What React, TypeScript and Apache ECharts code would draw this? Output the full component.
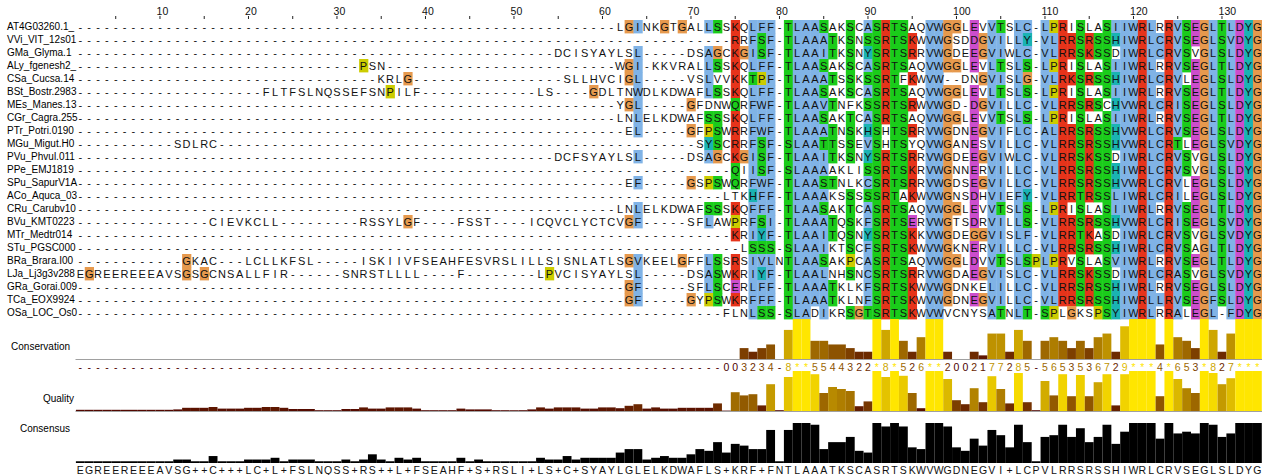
import React, { useEffect, useRef } from "react";
import * as echarts from "echarts";

// ---------------- DATA ----------------
const gap = (n: number) => "-".repeat(n);

const seqNames = [
  "AT4G03260.1_", "VVi_VIT_12s01", "GMa_Glyma.1", "ALy_fgenesh2_", "CSa_Cucsa.14",
  "BSt_Bostr.2983", "MEs_Manes.13", "CGr_Cagra.255", "PTr_Potri.0190", "MGu_Migut.H0",
  "PVu_Phvul.011", "PPe_EMJ1819", "SPu_SapurV1A", "ACo_Aquca_03", "CRu_Carubv10",
  "BVu_KMT0223", "MTr_Medtr014", "STu_PGSC000", "BRa_Brara.I00", "LJa_Lj3g3v288",
  "GRa_Gorai.009", "TCa_EOX9924", "OSa_LOC_Os0",
];

const sequences = [
  gap(61) + "LGINKGTGALLSSKQLFF" + "-" + "TLAASAKSCASRTSAQVWGG" + "LEVVTSLC" + "-" + "LPRISLASIIWRLRRVSEGLTLDYG",
  gap(61) + gap(13) + "RRFSF" + "-" + "TLAAATKSNSSRTSKWVWGS" + "DDGVILLY" + "-" + "VLRRSRSSHIWRLCRVSEGLSVDYG",
  gap(54) + "DCISYAY" + "LSL" + gap(5) + "DSAGCKGISF" + "-" + "TLAAITKSNYSRTSRRVWGD" + "EEGVIWLC" + "-" + "VLRRSKSSDIWRLCRVSVGLSLDYG",
  gap(32) + "PSN" + gap(26) + "WGI-KKVRALLSSKQLFF" + "-" + "TLAASAKSCASRTSAQVWGG" + "LEVLTSLS" + "-" + "LPRISLASIIWRLRRVSEGLTLDYG",
  gap(34) + "KRLG" + gap(17) + "SLLHVC" + "IGL" + gap(5) + "VSLVVKKTPF" + "-" + "TLAAATSSKSSRTFKWVW--" + "DNGVISLG" + "-" + "VLRKSRSSHIWRLCRVLEGLSLDYG",
  gap(21) + "FLTFSLNQSSEFSNPILF" + gap(13) + "LS" + gap(4) + "GDL" + "TNWDLKDWAFLSSKQLFF" + "-" + "TLAASAKSCASRTSAQVWGG" + "LEVLTSLS" + "-" + "LPRISLASIIWRLRRVSEGLTLDYG",
  gap(61) + "YGL" + gap(5) + "GFDNWQRFWF" + "-" + "TLAAVTNFKSSRTSRWVWGD" + "-DGVILLC" + "-" + "VLRRSRSCHVWRLCRISEGLSLDYG",
  gap(61) + "LNLELKDWAFSSSKQLFF" + "-" + "TLAASAKTCASRTSAQVWGG" + "LEVVTSLS" + "-" + "LPRISLASIIWRLRRVSEGLTLDYG",
  gap(61) + "-EL" + gap(5) + "GFPSWRRFWF" + "-" + "TLAAATNSKHSHTSRRVWGD" + "NEGVIFLC" + "-" + "ALRRSRSSHVWRLCRVSEGLSLDYG",
  gap(11) + "SDLRC" + gap(45) + gap(9) + "SYSCRRFSF" + "-" + "SLAATTSSEVSHTSYQVWGA" + "NESVILLC" + "-" + "VLRRSRSSHVWRLCRTLEGLSVDYG",
  gap(54) + "DCFSYAY" + "LSL" + gap(5) + "DSAGCKGISF" + "-" + "TLAAITKSNYSRTSRRVWGD" + "EEGVIWLC" + "-" + "VLRRSKSSDIWRLCRVSVGLSLDYG",
  gap(61) + gap(13) + "QIISF" + "-" + "SLAAAAKLISSRTSKRVWGN" + "NERVILLC" + "-" + "VLRRSRSSHIWRLCRVSVGLSLDYG",
  gap(61) + "-EF" + gap(5) + "GSPSWQRFWF" + "-" + "TLAASTNLKCSRTSRRVWGD" + "SEGVILLC" + "-" + "VLRRSRSSHVWRLCRVLEGLSLDYG",
  gap(61) + gap(12) + "LTKHFF" + "-" + "TLAAAKSSSSSRTAKWVWGN" + "SDHVIEFY" + "-" + "VLRRTRSSLIWRLCRILEGLSLDYG",
  gap(61) + "LNLELKDWAFSSSKQFFF" + "-" + "TLAASAKTCASRTSAQVWGG" + "LEVVTSLS" + "-" + "LPRISLASIIWRLRRVSEGLTLDYG",
  gap(15) + "CIEVKCLL" + gap(9) + "RSSYLGF" + gap(4) + "FSST" + gap(4) + "ICQVCLYCTC" + "VGF" + gap(5) + "SFLAWPRFSI" + "-" + "TLAAATQSKFSRTSERVWGT" + "SDRVILLS" + "-" + "VLRRSRSSHVWRLCRISEGLSVDYG",
  gap(61) + gap(13) + "KRIYF" + "-" + "TLAAITQSNYSRTSKKVWGD" + "EGGVISLF" + "-" + "VLRRTKASDIWRLCRVSVGLSVDYG",
  gap(61) + gap(14) + "LSSS" + "-" + "SLAAIKTSCFSRTSKWVWGK" + "NERVILLC" + "-" + "VLRRSRSSHIWRLCRVSAGLTLDYG",
  gap(12) + "GKAC" + gap(3) + "LCLLKFSL" + gap(5) + "ISKIIVFSEAHFESVRSLILLSISNLATL" + "SGVKEELGFFLSSRSIVL" + "N" + "TLAASAKPCASRTSAQVWGG" + "LDVVTSLS" + "P" + "LPRVSLASVIWRLRRVSEGLTLDYG",
  "EGREEREEEAVSGSGCNSALLFIR" + gap(6) + "SNRSTLLLL" + gap(4) + "F" + gap(8) + "LPVCISYAY" + "LSL" + gap(5) + "DSASWKRIYF" + "-" + "TLAALNHSNCSRTSRRVWGD" + "AEGVISLC" + "-" + "VLRRSKSSDIWRLCRASVGLSVDYG",
  gap(61) + "-GF" + gap(5) + "SFLSCERLFF" + "-" + "TLAAATKLKFSRTSKWVWGD" + "NKELILLC" + "-" + "VLRRSRSSHIWRLRRVSEGLSLDYG",
  gap(61) + "-GF" + gap(5) + "GYPSWKRFFF" + "-" + "TLAAATKLNFSRTSKWVWGD" + "NEGVILLC" + "-" + "VLRRSRSSHIWRLLRVSEGFSLDYG",
  gap(61) + gap(12) + "FLNLSS" + "-" + "SLADIKRSGTSRTSKWVWVC" + "NYSATNLT" + "-" + "SPLGKSPSYIWRLRRALEGL-FDYG",
];

// Conservation symbols per column (as shown under the conservation graph)
const conservationSymbols =
  gap(73) + "003234-8**5544322*8*526**2002177285-5653536729***4*653*827***";

// Alignment quality per column (fraction of full height)
const quality = [
  0.03, 0.03, 0.03, 0.03, 0.03, 0.03, 0.03, 0.03, 0.03, 0.03,
  0.03, 0.04, 0.08, 0.08, 0.08, 0.1, 0.06, 0.06, 0.06, 0.08,
  0.08, 0.1, 0.1, 0.08, 0.05, 0.05, 0.05, 0.02, 0.02, 0.02,
  0.05, 0.05, 0.09, 0.06, 0.06, 0.09, 0.09, 0.09, 0.06, 0.02,
  0.02, 0.02, 0.02, 0.06, 0.04, 0.04, 0.04, 0.02, 0.02, 0.02,
  0.02, 0.04, 0.09, 0.06, 0.09, 0.09, 0.09, 0.06, 0.06, 0.09,
  0.09, 0.07, 0.13, 0.17, 0.06, 0.09, 0.06, 0.06, 0.08, 0.08,
  0.08, 0.08, 0.19, 0.01, 0.47, 0.39, 0.42, 0.14, 0.67, 0.02,
  0.85, 1, 1, 0.92, 0.45, 0.6, 0.55, 0.5, 0.12, 0.24,
  1, 0.85, 1, 0.88, 0.45, 0.07, 1, 1, 0.8, 0.27,
  0.17, 0.57, 0.22, 0.87, 0.55, 0.19, 0.95, 0.22, 0.02, 0.75,
  0.39, 0.92, 0.37, 0.9, 0.37, 0.72, 0.92, 0.14, 0.92, 1,
  1, 1, 0.37, 1, 0.8, 0.57, 0.45, 1, 0.95, 0.67,
  0.82, 1, 1, 1,
];

const rulerLabels = [10, 20, 30, 40, 50, 60, 70, 80, 90, 100, 110, 120, 130];
const rulerMinorTicks = [5, 15, 25, 35, 45, 55, 65, 75, 85, 95, 105, 115, 125];
const annotationLabels = ["Conservation", "Quality", "Consensus"];

// ---------------- LAYOUT ----------------
const X0 = 75.9;
const CW = 8.85;
const NC = 134;
const GW = NC * CW;
const ALN_TOP = 20;
const RH = 13;
const CONS_TOP = 319;
const QUAL_TOP = 371;
const CSS_TOP = 423;
const GH = 40;
const FONT = "Liberation Sans, Arial, Helvetica, sans-serif";

const CLUSTAL = {
  BLUE: "#80b3e6",
  RED: "#e6331a",
  GREEN: "#1acc1a",
  ORANGE: "#e6994d",
  CYAN: "#1ab3b3",
  PINK: "#e68080",
  MAGENTA: "#cc4dcc",
  YELLOW: "#cccc00",
};

function gradient(v: number) {
  const t = Math.max(0, Math.min(1, v));
  const r = Math.round((0.3 + 0.7 * t) * 255);
  const g = Math.round(0.9 * t * 255);
  return `rgb(${r},${g},0)`;
}

function buildOption() {
  const N = sequences.length;
  const counts: Record<string, number>[] = [];
  for (let c = 0; c < NC; c++) {
    const m: Record<string, number> = {};
    for (const s of sequences) {
      const ch = s[c] || "-";
      m[ch] = (m[ch] || 0) + 1;
    }
    counts.push(m);
  }
  const pct = (c: number, set: string) => {
    let n = 0;
    for (const ch of set) n += counts[c][ch] || 0;
    return (n * 100) / N;
  };
  const HYD = "WLVIMAFCYHP";
  const clustal = (ch: string, c: number): string | null => {
    switch (ch) {
      case "A": case "I": case "L": case "M": case "F": case "W": case "V":
        return pct(c, HYD) > 60 ? CLUSTAL.BLUE : null;
      case "C":
        if (pct(c, HYD) > 60) return CLUSTAL.BLUE;
        if (pct(c, "C") > 85) return CLUSTAL.PINK;
        return null;
      case "K": case "R":
        return pct(c, "KR") > 60 || pct(c, "KRQ") > 80 ? CLUSTAL.RED : null;
      case "N":
        return pct(c, "N") > 50 || pct(c, "NY") > 85 ? CLUSTAL.GREEN : null;
      case "D":
        return pct(c, "KR") > 60 || pct(c, "KRQ") > 85 || pct(c, "ED") > 50 ? CLUSTAL.MAGENTA : null;
      case "E":
        return pct(c, "KR") > 60 || pct(c, "QE") > 50 || pct(c, "EQD") > 85 ? CLUSTAL.MAGENTA : null;
      case "Q":
        return pct(c, "KR") > 60 || pct(c, "QE") > 50 || pct(c, "QEKR") > 85 ? CLUSTAL.GREEN : null;
      case "G":
        return CLUSTAL.ORANGE;
      case "P":
        return CLUSTAL.YELLOW;
      case "H": case "Y":
        return pct(c, HYD) > 60 || pct(c, "WYACPQFHILMV") > 85 ? CLUSTAL.CYAN : null;
      case "S": case "T":
        return pct(c, HYD) > 60 || pct(c, "TS") > 50 || pct(c, "ST") > 85 ? CLUSTAL.GREEN : null;
    }
    return null;
  };

  const cells: { ch: string; color: string | null }[] = [];
  const cellData: number[][] = [];
  sequences.forEach((s, r) => {
    for (let c = 0; c < NC; c++) {
      const ch = s[c] || "-";
      cells.push({ ch, color: ch === "-" ? null : clustal(ch, c) });
      cellData.push([c, r]);
    }
  });

  const consensus = counts.map((m) => {
    let best = 0;
    let chars: string[] = [];
    for (const [ch, n] of Object.entries(m)) {
      if (ch === "-") continue;
      if (n > best) { best = n; chars = [ch]; }
      else if (n === best) chars.push(ch);
    }
    return { label: chars.length > 1 ? "+" : chars[0] || "-", value: best };
  });

  const consVal = (s: string) => (s === "*" ? 11 : s === "+" ? 10 : s === "-" ? 0 : Number(s));
  const consSyms = conservationSymbols.split("");
  const colCats = Array.from({ length: NC }, (_, i) => String(i + 1));

  const hiddenX = (gridIndex: number, line: boolean) => ({
    type: "category",
    gridIndex,
    data: colCats,
    boundaryGap: true,
    axisLabel: { show: false },
    axisTick: { show: false },
    splitLine: { show: false },
    axisLine: { show: line, lineStyle: { color: "#a0a0a0", width: 1 } },
  });

  return {
    animation: false,
    backgroundColor: "#ffffff",
    grid: [
      { left: X0, top: ALN_TOP, width: GW, height: RH * N },
      { left: X0, top: CONS_TOP, width: GW, height: GH },
      { left: X0, top: QUAL_TOP, width: GW, height: GH },
      { left: X0, top: CSS_TOP, width: GW, height: GH },
    ],
    xAxis: [hiddenX(0, false), hiddenX(1, true), hiddenX(2, true), hiddenX(3, false)],
    yAxis: [
      {
        type: "category",
        gridIndex: 0,
        data: seqNames,
        inverse: true,
        axisLine: { show: false },
        axisTick: { show: false },
        splitLine: { show: false },
        axisLabel: {
          interval: 0,
          align: "left",
          margin: X0 - 7,
          width: 72,
          overflow: "truncate",
          ellipsis: "",
          fontSize: 10,
          fontFamily: FONT,
          color: "#000",
        },
      },
      { type: "value", gridIndex: 1, min: 0, max: 11, show: false },
      { type: "value", gridIndex: 2, min: 0, max: 1, show: false },
      { type: "value", gridIndex: 3, min: 0, max: N, show: false },
    ],
    graphic: [
      { type: "text", x: 70, y: 346, style: { text: annotationLabels[0], align: "right", verticalAlign: "middle", font: `10px ${FONT}`, fill: "#000" } },
      { type: "text", x: 74, y: 398, style: { text: annotationLabels[1], align: "right", verticalAlign: "middle", font: `10px ${FONT}`, fill: "#000" } },
      { type: "text", x: 70, y: 428, style: { text: annotationLabels[2], align: "right", verticalAlign: "middle", font: `10px ${FONT}`, fill: "#000" } },
    ],
    series: [
      {
        type: "custom",
        name: "alignment",
        xAxisIndex: 0,
        yAxisIndex: 0,
        silent: true,
        encode: { x: 0, y: 1 },
        data: cellData,
        renderItem: (params: any, api: any) => {
          const cell = cells[params.dataIndex];
          const p = api.coord([api.value(0), api.value(1)]);
          const sz = api.size([1, 1]);
          const children: any[] = [];
          if (cell.color) {
            children.push({
              type: "rect",
              shape: { x: p[0] - sz[0] / 2, y: p[1] - sz[1] / 2, width: sz[0] + 0.4, height: sz[1] + 0.4 },
              style: { fill: cell.color },
            });
          }
          children.push({
            type: "text",
            style: { text: cell.ch, x: p[0], y: p[1] + 0.5, align: "center", verticalAlign: "middle", fill: "#111", font: `11px ${FONT}` },
          });
          return { type: "group", children };
        },
      },
      {
        type: "custom",
        name: "ruler",
        xAxisIndex: 0,
        yAxisIndex: 0,
        silent: true,
        clip: false,
        encode: { x: 0, y: 1 },
        data: [...rulerMinorTicks, ...rulerLabels].map((c) => [c - 1, 0, c]),
        renderItem: (params: any, api: any) => {
          const p = api.coord([api.value(0), 0]);
          const sz = api.size([1, 1]);
          const top = p[1] - sz[1] / 2;
          const num = api.value(2);
          const children: any[] = [
            { type: "line", shape: { x1: p[0], y1: top - 4, x2: p[0], y2: top - 1 }, style: { stroke: "#222", lineWidth: 1 } },
          ];
          if (num % 10 === 0) {
            children.push({
              type: "text",
              style: { text: String(num), x: p[0] - 3.4, y: top - 9, align: "left", verticalAlign: "middle", fill: "#111", font: `10.5px ${FONT}` },
            });
          }
          return { type: "group", children };
        },
      },
      {
        type: "bar",
        name: "Conservation",
        xAxisIndex: 1,
        yAxisIndex: 1,
        silent: true,
        barWidth: "100%",
        data: consSyms.map((s) => {
          const v = consVal(s);
          return { value: v, itemStyle: { color: gradient(v / 11) } };
        }),
      },
      {
        type: "custom",
        name: "conservationSymbols",
        xAxisIndex: 1,
        yAxisIndex: 1,
        silent: true,
        clip: false,
        encode: { x: 0, y: 1 },
        data: consSyms.map((s, c) => [c, 0]),
        renderItem: (params: any, api: any) => {
          const s = consSyms[params.dataIndex];
          const p = api.coord([api.value(0), 0]);
          return {
            type: "text",
            style: { text: s, x: p[0], y: p[1] + 8, align: "center", verticalAlign: "middle", fill: gradient(consVal(s) / 11), font: `10.5px ${FONT}` },
          };
        },
      },
      {
        type: "bar",
        name: "Quality",
        xAxisIndex: 2,
        yAxisIndex: 2,
        silent: true,
        barWidth: "100%",
        data: quality.map((q) => ({ value: q, itemStyle: { color: gradient(q) } })),
      },
      {
        type: "bar",
        name: "Consensus",
        xAxisIndex: 3,
        yAxisIndex: 3,
        silent: true,
        barWidth: "100%",
        data: consensus.map((c) => ({ value: c.value, itemStyle: { color: "#000" } })),
      },
      {
        type: "custom",
        name: "consensusLabels",
        xAxisIndex: 3,
        yAxisIndex: 3,
        silent: true,
        clip: false,
        encode: { x: 0, y: 1 },
        data: consensus.map((c, i) => [i, 0]),
        renderItem: (params: any, api: any) => {
          const p = api.coord([api.value(0), 0]);
          return {
            type: "text",
            style: { text: consensus[params.dataIndex].label, x: p[0], y: p[1] + 7, align: "center", verticalAlign: "middle", fill: "#111", font: `10.5px ${FONT}` },
          };
        },
      },
    ],
  };
}

export default function App() {
  const ref = useRef<HTMLDivElement>(null);
  useEffect(() => {
    document.body.style.margin = "0";
    const chart = echarts.init(ref.current as HTMLDivElement, null, { renderer: "svg" });
    chart.setOption(buildOption() as any);
    return () => chart.dispose();
  }, []);
  return (
    <div
      ref={ref}
      style={{ position: "absolute", left: 0, top: 0, width: 1262, height: 475, background: "#fff" }}
    />
  );
}
